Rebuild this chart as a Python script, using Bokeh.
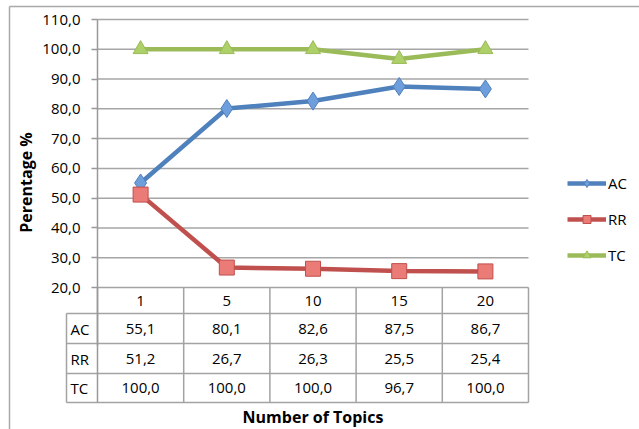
from bokeh.plotting import figure
from bokeh.models import (Range1d, FixedTicker, ColumnDataSource, LinearAxis,
                          Legend, LegendItem)
from bokeh.embed import file_html
from bokeh.resources import INLINE
from bokeh.core.properties import value

# ---------------- data ----------------
topics = ["1", "5", "10", "15", "20"]
ac = [55.1, 80.1, 82.6, 87.5, 86.7]
rr = [51.2, 26.7, 26.3, 25.5, 25.4]
tc = [100.0, 100.0, 100.0, 96.7, 100.0]
series_names = ["AC", "RR", "TC"]
y_ticks = [20, 30, 40, 50, 60, 70, 80, 90, 100, 110]
y_tick_labels = ["20,0", "30,0", "40,0", "50,0", "60,0", "70,0", "80,0", "90,0", "100,0", "110,0"]
x_title = "Number of Topics"
y_title = "Perentage %"

# ---------------- layout (pixels) ----------------
W, H = 639, 429
PL, PR = 97, 528          # plot area left/right (px)
PT, PB = 19, 287          # pixel rows of the top (110) and bottom (20) of the value axis
n = len(topics)
Y_TOP, Y_BASE = y_ticks[-1], y_ticks[0]
upp = (Y_TOP - Y_BASE) / (PB - PT)


def xd(px):
    return (px - PL) * n / (PR - PL)


def yd(py):
    return Y_BASE + (PB - py) * upp


FONT = "Open Sans"
GRID = "#a6a6a6"
TABLE = "#a3a3a3"
AXIS = "#999999"
C_AC, F_AC = "#4f81bd", "#6e9fdc"
C_RR, F_RR = "#c0504d", "#ea7b77"
C_TC, F_TC = "#9bbb59", "#add068"

p = figure(width=W, height=H, x_range=Range1d(xd(0), xd(W)), y_range=Range1d(yd(H), yd(0)),
           output_backend="svg", toolbar_location=None,
           x_axis_location=None, y_axis_location=None,
           min_border=0, min_border_left=0, min_border_right=0,
           min_border_top=0, min_border_bottom=0)
p.outline_line_color = None
p.background_fill_color = "white"
p.border_fill_color = "white"
p.grid.visible = False

# table geometry
row_edges = [yd(v) for v in (287, 313, 343, 373, 402)]
lab_left = xd(66)

# value axis, drawn at the left edge of the plot area
yax = LinearAxis(fixed_location=0, bounds=(yd(345), Y_TOP),
                 ticker=FixedTicker(ticks=y_ticks))
yax.major_label_overrides = {t: s for t, s in zip(y_ticks, y_tick_labels)}
yax.minor_tick_line_color = None
yax.major_tick_in = 0
yax.major_tick_out = 6
yax.major_tick_line_color = AXIS
yax.major_tick_line_width = 1.5
yax.axis_line_color = AXIS
yax.axis_line_width = 1.5
yax.major_label_standoff = 11
yax.major_label_text_font = FONT
yax.major_label_text_font_size = "15px"
yax.major_label_text_color = "black"
yax.axis_label = y_title
yax.axis_label_text_font = FONT
yax.axis_label_text_font_size = "16px"
yax.axis_label_text_font_style = "bold"
yax.axis_label_text_color = "black"
yax.axis_label_standoff = 2
p.add_layout(yax, "left")

# horizontal grid lines
p.segment(x0=[0] * (len(y_ticks) - 1), x1=[n] * (len(y_ticks) - 1),
          y0=y_ticks[1:], y1=y_ticks[1:], line_color=GRID, line_width=1.5)

# series
xs = [i + 0.5 for i in range(n)]
renderers = []
for vals, line_c, fill_c, marker, msize in [(ac, C_AC, F_AC, "diamond", 18),
                                           (rr, C_RR, F_RR, "square", 15),
                                           (tc, C_TC, F_TC, "triangle", 15)]:
    src = ColumnDataSource(dict(x=xs, y=vals))
    l = p.line("x", "y", source=src, line_color=line_c, line_width=4.5)
    s = p.scatter("x", "y", source=src, marker=marker, size=msize,
                  fill_color=fill_c, line_color=line_c, line_width=1)
    renderers.append([l, s])

# ---------------- data table ----------------
x0s, y0s, x1s, y1s = [], [], [], []
x0s.append(0); y0s.append(row_edges[0]); x1s.append(n); y1s.append(row_edges[0])
for ye in row_edges[1:]:
    x0s.append(lab_left); y0s.append(ye); x1s.append(n); y1s.append(ye)
for k in range(1, n + 1):
    x0s.append(k); y0s.append(row_edges[0]); x1s.append(k); y1s.append(row_edges[-1])
x0s.append(lab_left); y0s.append(row_edges[1]); x1s.append(lab_left); y1s.append(row_edges[-1])
p.segment(x0=x0s, y0=y0s, x1=x1s, y1=y1s, line_color=TABLE, line_width=1.5)
# left edge of the value columns (continuation of the axis line)
p.segment(x0=[0], y0=[row_edges[0]], x1=[0], y1=[row_edges[-1]], line_color=AXIS, line_width=1.5)

# outer chart border (top and left edges)
p.segment(x0=[xd(9), xd(9)], y0=[yd(6), yd(6)], x1=[xd(W), xd(9)], y1=[yd(6), yd(H)],
          line_color="#a9a9a9", line_width=1.5)


def fmt(v):
    return f"{v:.1f}".replace(".", ",")


cell_x, cell_y, cell_t = [], [], []
hdr_y = (row_edges[0] + row_edges[1]) / 2
for xc, t in zip(xs, topics):
    cell_x.append(xc); cell_y.append(hdr_y); cell_t.append(t)
for r, vals in enumerate([ac, rr, tc]):
    yc = (row_edges[r + 1] + row_edges[r + 2]) / 2
    for xc, v in zip(xs, vals):
        cell_x.append(xc); cell_y.append(yc); cell_t.append(fmt(v))
p.text(x=cell_x, y=cell_y, text=cell_t, text_align="center", text_baseline="middle",
       text_font=value(FONT), text_font_size="15px", text_color="black")

row_label_y = [(row_edges[r + 1] + row_edges[r + 2]) / 2 for r in range(len(series_names))]
p.text(x=[lab_left] * len(series_names), y=row_label_y, text=series_names, x_offset=4,
       text_align="left", text_baseline="middle",
       text_font=value(FONT), text_font_size="15px", text_color="black")

p.text(x=[n / 2], y=[yd(416)], text=[x_title], text_align="center", text_baseline="middle",
       text_font=value(FONT), text_font_size="16px", text_font_style="bold", text_color="black")

# ---------------- legend ----------------
legend = Legend(items=[LegendItem(label=nm, renderers=r) for nm, r in zip(series_names, renderers)],
                location=(567, 164), orientation="vertical", glyph_width=39, glyph_height=20,
                label_height=20, spacing=16, label_standoff=2, padding=0, margin=0,
                border_line_color=None, background_fill_alpha=0,
                label_text_font=FONT, label_text_font_size="15px", label_text_color="black")
p.add_layout(legend)

open("out.html", "w").write(file_html(p, INLINE))
